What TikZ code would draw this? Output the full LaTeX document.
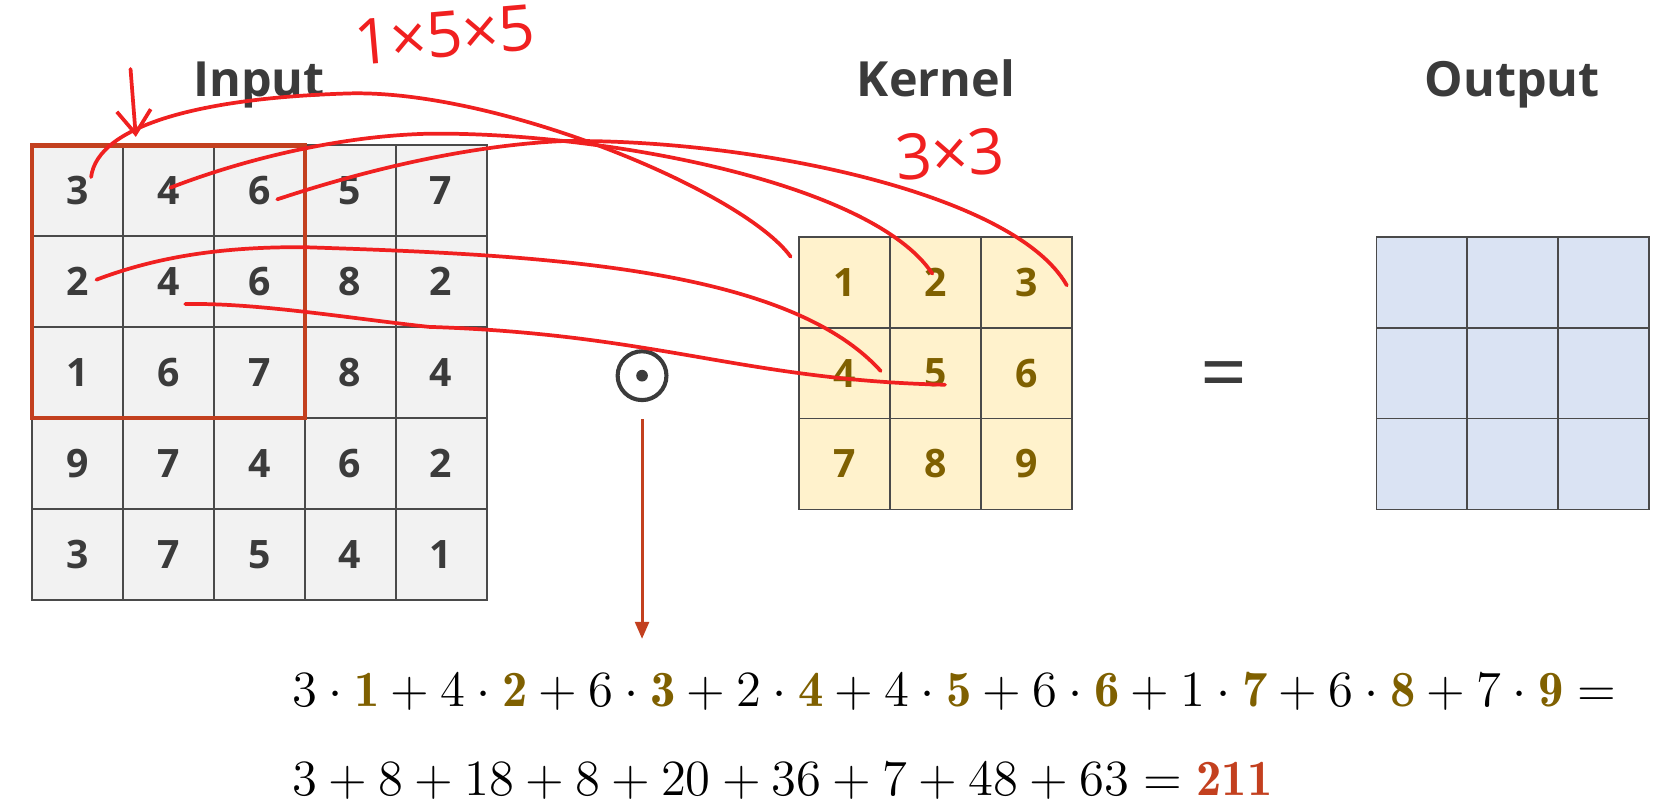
\RequirePackage{fix-cm}
\documentclass[tikz,border=0pt]{standalone}
\usepackage{fontspec}
\setsansfont{Open Sans}
\usepackage{amsmath}
\usepackage{tikz}
\usetikzlibrary{arrows.meta}
\definecolor{txtgrey}{HTML}{3B3B3B}
\definecolor{gridgrey}{HTML}{4A4A4A}
\definecolor{infill}{HTML}{F2F2F2}
\definecolor{kfill}{HTML}{FFF2CC}
\definecolor{ofill}{HTML}{DAE3F3}
\definecolor{kgold}{HTML}{7F6000}
\definecolor{boxred}{HTML}{C3401F}
\definecolor{penred}{HTML}{F02020}
\newcommand{\kn}[1]{\textcolor{kgold}{\mathbf{#1}}}

\begin{document}
\begin{tikzpicture}[
  cell/.style={draw=gridgrey,line width=0.5pt,minimum size=0.857cm,inner sep=0pt,outer sep=0pt,
    font=\sffamily\bfseries\fontsize{10.5}{12}\selectfont},
  incell/.style={cell,fill=infill,text=txtgrey},
  kcell/.style={cell,fill=kfill,text=kgold},
  ocell/.style={cell,fill=ofill},
  title/.style={anchor=base,text=txtgrey,font=\sffamily\bfseries\fontsize{13}{15}\selectfont},
  eqline/.style={anchor=base west,inner sep=0pt,font=\fontsize{13.6}{16}\selectfont},
  scribble/.style={draw=penred,line width=1pt,line cap=round},
  handtext/.style={text=penred,font=\sffamily\fontsize{17}{20}\selectfont}]
\useasboundingbox (0,0) rectangle (15.68,-7.56);
\node[title] (intitle) at (2.44,-0.91) {Input};
\node[title] (ktitle) at (8.82,-0.91) {Kernel};
\node[title] (otitle) at (14.25,-0.91) {Output};
\foreach \v [count=\n from 0] in {3,4,6,5,7,2,4,6,8,2,1,6,7,8,4,9,7,4,6,2,3,7,5,4,1}{
  \pgfmathtruncatemacro\r{int(\n/5)}
  \pgfmathtruncatemacro\c{mod(\n,5)}
  \node[incell] (in\r\c) at (0.3+0.857*\c+0.4285,-1.37-0.857*\r-0.4285) {\v};
}
\foreach \v [count=\n from 0] in {1,...,9}{
  \pgfmathtruncatemacro\r{int(\n/3)}
  \pgfmathtruncatemacro\c{mod(\n,3)}
  \node[kcell] (k\r\c) at (7.53+0.857*\c+0.4285,-2.23-0.857*\r-0.4285) {\v};
  \node[ocell] (out\r\c) at (12.97+0.857*\c+0.4285,-2.23-0.857*\r-0.4285) {};
}
\draw[boxred,line width=1.15pt] (in00.north west) rectangle (in22.south east);
\node[circle,draw=txtgrey,line width=1.1pt,minimum size=0.46cm,inner sep=0pt] (odot) at (6.05,-3.54) {};
\fill[txtgrey] (odot.center) circle (0.055);
\node[text=txtgrey,font=\sffamily\fontsize{22}{24}\selectfont] (eq) at (11.53,-3.60) {=};
\coordinate (prod) at (6.05,-6.02);
\draw[boxred,line width=0.8pt,-{Triangle[length=0.16cm,width=0.13cm]}] ([yshift=-0.16cm]odot.south) -- (prod);
\node[eqline] (line1) at (2.75,-6.66)
  {$3\cdot\kn{1}+4\cdot\kn{2}+6\cdot\kn{3}+2\cdot\kn{4}+4\cdot\kn{5}+6\cdot\kn{6}+1\cdot\kn{7}+6\cdot\kn{8}+7\cdot\kn{9}=$};
\node[eqline] (line2) at (2.75,-7.50)
  {$3+8+18+8+20+36+7+48+63=\textcolor{boxred}{\mathbf{211}}$};
\node[handtext,rotate=5] (size5) at (4.19,-0.33) {1×5×5};
\node[handtext,rotate=4] (size3) at (8.95,-1.45) {3×3};
\coordinate (pintop) at (1.23,-0.65);
\coordinate (pin) at (1.28,-1.29);
\draw[scribble,-{Straight Barb[length=0.22cm,width=0.32cm]}] (pintop) -- (pin);
\draw[scribble] ([shift={(0.13,0.13)}]in00.center) .. controls (0.92,-1.18) and (1.90,-0.92) .. (3.30,-0.88)
  .. controls (4.70,-0.85) and (7.00,-1.80) .. ([shift={(-0.08,0.24)}]k00.west);
\draw[scribble] ([shift={(0.02,0.03)}]in01.center) .. controls (2.30,-1.50) and (3.20,-1.28) .. (4.04,-1.26)
  .. controls (5.60,-1.24) and (8.20,-1.70) .. ([shift={(-0.03,0.08)}]k01.center);
\draw[scribble] ([shift={(0.17,-0.08)}]in02.center) .. controls (3.30,-1.65) and (4.30,-1.38) .. (5.28,-1.33)
  .. controls (7.00,-1.30) and (9.55,-1.80) .. ([shift={(0.38,-0.03)}]k02.center);
\draw[scribble] ([shift={(0.18,0.02)}]in10.center) .. controls (1.40,-2.45) and (2.00,-2.32) .. (2.89,-2.33)
  .. controls (5.00,-2.40) and (7.40,-2.50) .. ([shift={(0.34,0.02)}]k10.center);
\draw[scribble] ([shift={(0.16,-0.21)}]in11.center) .. controls (2.40,-2.85) and (3.30,-3.00) .. (4.04,-3.08)
  .. controls (6.20,-3.15) and (7.00,-3.58) .. ([shift={(0.09,-0.11)}]k11.center);
\end{tikzpicture}
\end{document}
